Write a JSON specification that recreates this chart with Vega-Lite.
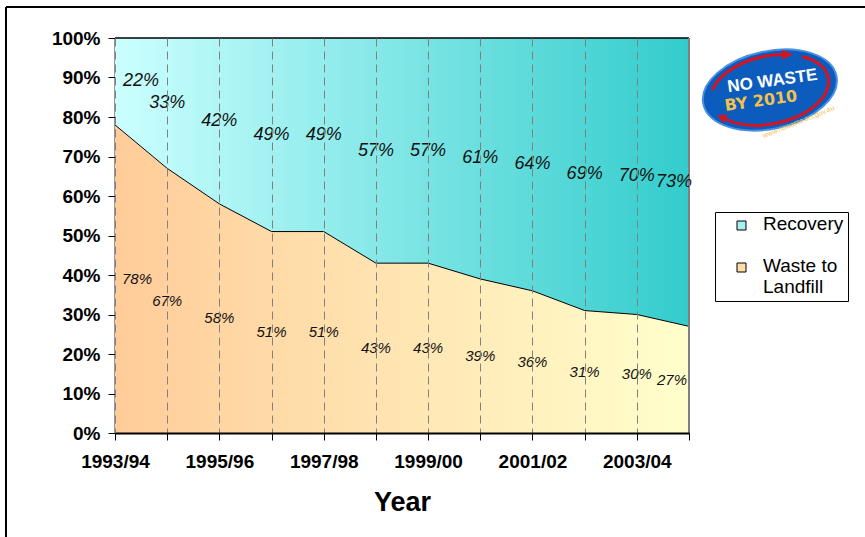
{
  "$schema": "https://vega.github.io/schema/vega-lite/v6.json",
  "width": 574,
  "height": 395,
  "autosize": {"type": "none"},
  "padding": {"left": 115, "top": 38, "right": 176, "bottom": 104},
  "background": "white",
  "config": {
    "view": {"stroke": null},
    "font": "Liberation Sans",
    "axisY": {
      "tickCount": 11, "labelOverlap": false, "labelFlush": false, "grid": false, "zindex": 1,
      "labelFont": "Liberation Sans", "labelFontWeight": "bold", "labelFontSize": 19,
      "labelColor": "black", "labelPadding": 8,
      "tickSize": 7, "tickColor": "black", "tickWidth": 1,
      "domainColor": "#333333", "domainWidth": 2
    }
  },
  "data": {
    "values": [
      {"idx": 0, "year": "1993/94", "landfill": 78, "recovery": 22},
      {"idx": 1, "year": "1994/95", "landfill": 67, "recovery": 33},
      {"idx": 2, "year": "1995/96", "landfill": 58, "recovery": 42},
      {"idx": 3, "year": "1996/97", "landfill": 51, "recovery": 49},
      {"idx": 4, "year": "1997/98", "landfill": 51, "recovery": 49},
      {"idx": 5, "year": "1998/99", "landfill": 43, "recovery": 57},
      {"idx": 6, "year": "1999/00", "landfill": 43, "recovery": 57},
      {"idx": 7, "year": "2000/01", "landfill": 39, "recovery": 61},
      {"idx": 8, "year": "2001/02", "landfill": 36, "recovery": 64},
      {"idx": 9, "year": "2002/03", "landfill": 31, "recovery": 69},
      {"idx": 10, "year": "2003/04", "landfill": 30, "recovery": 70},
      {"idx": 11, "year": "2004/05", "landfill": 27, "recovery": 73}
    ]
  },
  "transform": [
    {"calculate": "datum.recovery + '%'", "as": "recLabel"},
    {"calculate": "datum.landfill + '%'", "as": "landLabel"},
    {"calculate": "(datum.landfill + 100) / 2", "as": "recMid"},
    {"calculate": "datum.landfill / 2", "as": "landMid"}
  ],
  "layer": [
    {
      "mark": {
        "type": "area", "interpolate": "linear",
        "color": {"gradient": "linear", "x1": 0, "y1": 0, "x2": 1, "y2": 0, "stops": [{"offset": 0, "color": "#FFCC99"}, {"offset": 1, "color": "#FFFFCC"}]}
      },
      "encoding": {
        "x": {
          "field": "idx", "type": "quantitative",
          "scale": {"domain": [0, 11], "nice": false, "zero": false},
          "axis": {
            "title": "Year",
            "values": [0, 1, 2, 3, 4, 5, 6, 7, 8, 9, 10, 11],
            "grid": true, "gridDash": [8, 5], "gridColor": "#808080", "gridWidth": 1,
            "zindex": 1,
            "tickSize": 7, "tickColor": "black", "tickWidth": 1,
            "domainColor": "black", "domainWidth": 2,
            "labelExpr": "datum.value % 2 == 0 ? ['1993/94','1994/95','1995/96','1996/97','1997/98','1998/99','1999/00','2000/01','2001/02','2002/03','2003/04','2004/05'][datum.value] : ''",
            "labelFont": "Liberation Sans", "labelFontWeight": "bold", "labelFontSize": 19,
            "labelColor": "black", "labelPadding": 12, "labelFlush": false, "labelOverlap": false,
            "titleFont": "Liberation Sans", "titleFontSize": 27, "titleFontWeight": "bold",
            "titleColor": "black", "titlePadding": 18
          }
        },
        "y": {
          "field": "landfill", "type": "quantitative",
          "scale": {"domain": [0, 100], "nice": false},
          "axis": {
            "title": null,
            "values": [0, 10, 20, 30, 40, 50, 60, 70, 80, 90, 100],
            "labelExpr": "datum.value + '%'"
          }
        }
      }
    },
    {
      "mark": {
        "type": "area", "interpolate": "linear",
        "color": {"gradient": "linear", "x1": 0, "y1": 0, "x2": 1, "y2": 0, "stops": [{"offset": 0, "color": "#CCFFFF"}, {"offset": 1, "color": "#33CCCC"}]}
      },
      "encoding": {
        "x": {"field": "idx", "type": "quantitative"},
        "y": {"field": "landfill", "type": "quantitative"},
        "y2": {"datum": 100}
      }
    },
    {
      "mark": {"type": "line", "color": "black", "strokeWidth": 1},
      "encoding": {
        "x": {"field": "idx", "type": "quantitative"},
        "y": {"field": "landfill", "type": "quantitative"}
      }
    },
    {
      "data": {"values": []},
      "mark": {"type": "square", "opacity": 0},
      "encoding": {
        "x": {"field": "idx", "type": "quantitative"},
        "y": {"field": "landfill", "type": "quantitative"},
        "color": {
          "field": "series", "type": "nominal",
          "scale": {"domain": ["Recovery", "Waste to Landfill"], "range": ["#A6F0F0", "#FFDDAA"]},
          "legend": {
            "title": null, "orient": "none", "legendX": 600, "legendY": 174,
            "strokeColor": "black", "fillColor": "white", "padding": 4,
            "symbolType": "square", "symbolSize": 81, "symbolOffset": 13,
            "symbolStrokeColor": "black", "symbolStrokeWidth": 1, "symbolOpacity": 1,
            "labelFont": "Liberation Sans", "labelFontSize": 19, "labelColor": "black",
            "labelOffset": 12, "labelBaseline": "top", "rowPadding": 22,
            "labelExpr": "datum.label == 'Waste to Landfill' ? ['Waste to', 'Landfill'] : datum.label",
            "encode": {"labels": {"update": {"dy": {"value": -11}}}}
          }
        }
      }
    },
    {
      "data": {"values": [{}]},
      "mark": {"type": "rule", "color": "black", "strokeWidth": 1.5},
      "encoding": {"y": {"datum": 100}, "x": {"datum": 0}, "x2": {"datum": 11}}
    },
    {
      "data": {"values": [{}]},
      "mark": {"type": "rule", "color": "#808080", "strokeWidth": 2},
      "encoding": {"x": {"datum": 11}, "y": {"datum": 0}, "y2": {"datum": 100}}
    },
    {
      "transform": [{"filter": "datum.idx > 0 && datum.idx < 11"}],
      "mark": {"type": "text", "fontStyle": "italic", "fontSize": 18, "color": "#111111"},
      "encoding": {
        "x": {"field": "idx", "type": "quantitative"},
        "y": {"field": "recMid", "type": "quantitative"},
        "text": {"field": "recLabel"}
      }
    },
    {
      "transform": [{"filter": "datum.idx == 0"}],
      "mark": {"type": "text", "fontStyle": "italic", "fontSize": 18, "color": "#111111", "dx": 26},
      "encoding": {
        "x": {"field": "idx", "type": "quantitative"},
        "y": {"field": "recMid", "type": "quantitative"},
        "text": {"field": "recLabel"}
      }
    },
    {
      "transform": [{"filter": "datum.idx == 11"}],
      "mark": {"type": "text", "fontStyle": "italic", "fontSize": 18, "color": "#111111", "dx": -15},
      "encoding": {
        "x": {"field": "idx", "type": "quantitative"},
        "y": {"field": "recMid", "type": "quantitative"},
        "text": {"field": "recLabel"}
      }
    },
    {
      "transform": [{"filter": "datum.idx > 0 && datum.idx < 11"}],
      "mark": {"type": "text", "fontStyle": "italic", "fontSize": 15, "color": "#111111"},
      "encoding": {
        "x": {"field": "idx", "type": "quantitative"},
        "y": {"field": "landMid", "type": "quantitative"},
        "text": {"field": "landLabel"}
      }
    },
    {
      "transform": [{"filter": "datum.idx == 0"}],
      "mark": {"type": "text", "fontStyle": "italic", "fontSize": 15, "color": "#111111", "dx": 22},
      "encoding": {
        "x": {"field": "idx", "type": "quantitative"},
        "y": {"field": "landMid", "type": "quantitative"},
        "text": {"field": "landLabel"}
      }
    },
    {
      "transform": [{"filter": "datum.idx == 11"}],
      "mark": {"type": "text", "fontStyle": "italic", "fontSize": 15, "color": "#111111", "dx": -17},
      "encoding": {
        "x": {"field": "idx", "type": "quantitative"},
        "y": {"field": "landMid", "type": "quantitative"},
        "text": {"field": "landLabel"}
      }
    },
    {
      "data": {"values": [{}]},
      "mark": {"type": "rule", "color": "black", "strokeWidth": 2},
      "encoding": {"x": {"datum": -2.089}, "y": {"datum": 107.85}, "y2": {"datum": -30}}
    },
    {
      "data": {"values": [{}]},
      "mark": {"type": "rule", "color": "black", "strokeWidth": 2},
      "encoding": {"y": {"datum": 107.85}, "x": {"datum": -2.089}, "x2": {"datum": 15}}
    },
    {
      "data": {"values": [{}]},
      "mark": {"type": "point", "shape": "M-1,0A1,0.571,0,1,1,1,0A1,0.571,0,1,1,-1,0Z", "size": 18500, "fill": "#0B5CBD", "stroke": "#4A90E2", "strokeWidth": 2, "opacity": 1, "fillOpacity": 1, "angle": -12},
      "encoding": {"x": {"datum": 12.55}, "y": {"datum": 86.84}}
    },
    {
      "data": {"values": [{}]},
      "mark": {"type": "point", "shape": "M-0.827,-0.171A0.88,0.5,0,0,1,0.301,-0.47M0.566,-0.383A0.88,0.5,0,1,1,-0.721,0.287", "size": 18500, "filled": false, "stroke": "#D7141E", "strokeWidth": 3, "opacity": 1, "angle": -12},
      "encoding": {"x": {"datum": 12.55}, "y": {"datum": 86.84}}
    },
    {
      "data": {"values": [{}]},
      "mark": {"type": "point", "shape": "M0.44,-0.44L0.27,-0.40L0.30,-0.54ZM-0.83,0.20L-0.68,0.23L-0.77,0.34Z", "size": 18500, "filled": true, "fill": "#D7141E", "strokeWidth": 0, "opacity": 1, "angle": -12},
      "encoding": {"x": {"datum": 12.55}, "y": {"datum": 86.84}}
    },
    {
      "data": {"values": [{}]},
      "mark": {"type": "text", "text": "NO WASTE", "font": "Liberation Sans", "fontWeight": "bold", "fontSize": 17, "color": "white", "angle": -8},
      "encoding": {"x": {"datum": 12.6}, "y": {"datum": 89.1}}
    },
    {
      "data": {"values": [{}]},
      "mark": {"type": "text", "text": "BY 2010", "font": "DejaVu Sans", "fontWeight": "bold", "fontSize": 16, "color": "#F2C14E", "angle": -8},
      "encoding": {"x": {"datum": 12.38}, "y": {"datum": 84.05}}
    },
    {
      "data": {"values": [{}]},
      "mark": {"type": "text", "text": "www.nowaste.act.gov.au", "font": "Liberation Sans", "fontSize": 7, "color": "#F2C14E", "angle": -22},
      "encoding": {"x": {"datum": 13.1}, "y": {"datum": 78.7}}
    }
  ]
}
